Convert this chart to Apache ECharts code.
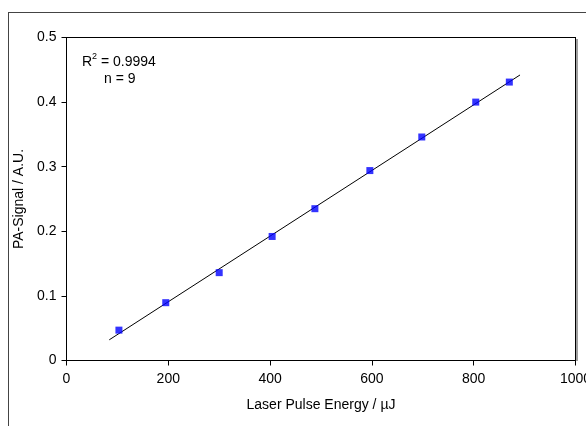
<!DOCTYPE html>
<html><head><meta charset="utf-8">
<script src="https://cdn.jsdelivr.net/npm/echarts@6/dist/echarts.min.js"></script>
<style>html,body{margin:0;padding:0;background:#fff}#c{width:586px;height:426px}</style>
</head><body><div id="c"></div>
<script>
var energy = [103, 195, 300, 404, 488, 596, 698, 804, 870];
var signal = [0.047, 0.0895, 0.136, 0.192, 0.235, 0.294, 0.346, 0.400, 0.431];
var fitX = [84, 891];
var fitY = [0.032, 0.442];
var xTicks = [0, 200, 400, 600, 800, 1000];
var yTicks = [0, 0.1, 0.2, 0.3, 0.4, 0.5];

var chart = echarts.init(document.getElementById('c'), null, {renderer: 'canvas'});
var font = 'Liberation Sans, Arial, sans-serif';
chart.setOption({
  animation: false,
  backgroundColor: '#fff',
  grid: {left: 66.5, top: 37.5, right: 10.5, bottom: 65.5, outerBoundsMode: 'none', containLabel: false},
  xAxis: {
    type: 'value', min: 0, max: 1000, interval: 200,
    name: 'Laser Pulse Energy / µJ', nameLocation: 'middle', nameGap: 38,
    nameTextStyle: {fontFamily: font, fontSize: 14, color: '#000'},
    axisLine: {show: true, onZero: false, lineStyle: {color: '#000', width: 1}},
    axisTick: {show: true, inside: false, length: 5, lineStyle: {color: '#000'}},
    axisLabel: {fontFamily: font, fontSize: 14, color: '#000', margin: 12,
      formatter: function (v) { return xTicks.indexOf(v) >= 0 ? String(v) : ''; }},
    splitLine: {show: false}
  },
  yAxis: {
    type: 'value', min: 0, max: 0.5, interval: 0.1,
    name: 'PA-Signal / A.U.', nameLocation: 'middle', nameGap: 35,
    nameTextStyle: {fontFamily: font, fontSize: 14, color: '#000'},
    axisLine: {show: true, onZero: false, lineStyle: {color: '#000', width: 1}},
    axisTick: {show: true, inside: false, length: 5, lineStyle: {color: '#000'}},
    axisLabel: {fontFamily: font, fontSize: 14, color: '#000', margin: 10,
      formatter: function (v) {
        var t = yTicks.filter(function (y) { return Math.abs(y - v) < 1e-9; });
        return t.length ? (v === 0 ? '0' : v.toFixed(1)) : '';
      }},
    splitLine: {show: false}
  },
  series: [
    {type: 'line', data: fitX.map(function (x, i) { return [x, fitY[i]]; }),
     symbol: 'none', lineStyle: {color: '#000', width: 1}, z: 2},
    {type: 'scatter', data: energy.map(function (x, i) { return [x, signal[i]]; }),
     symbol: 'rect', symbolSize: 7, itemStyle: {color: '#0000ff'}, z: 3}
  ],
  graphic: [
    {type: 'rect', z: 10, shape: {x: 8, y: 12, width: 578, height: 1}, style: {fill: '#444'}, silent: true},
    {type: 'rect', z: 10, shape: {x: 8, y: 12, width: 1, height: 414}, style: {fill: '#444'}, silent: true},
    {type: 'rect', z: 10, shape: {x: 66, y: 37, width: 510, height: 1}, style: {fill: '#000'}, silent: true},
    {type: 'rect', z: 10, shape: {x: 575, y: 37, width: 1, height: 324}, style: {fill: '#000'}, silent: true},
    {type: 'rect', z: 10, shape: {x: 576, y: 39, width: 2, height: 322}, style: {fill: '#a0a0a0'}, silent: true},
    {type: 'text', left: 82, top: 52, style: {
      text: '{a|R}{s|2}{a| = 0.9994}', fontFamily: font,
      rich: {a: {fontFamily: font, fontSize: 14, fill: '#000', verticalAlign: 'bottom'},
             s: {fontFamily: font, fontSize: 9, fill: '#000', verticalAlign: 'top', padding: [0, 0, 8, 0]}}}},
    {type: 'text', left: 104, top: 72, style: {text: 'n = 9', fontFamily: font, fontSize: 14, fill: '#000'}}
  ]
});
</script></body></html>
